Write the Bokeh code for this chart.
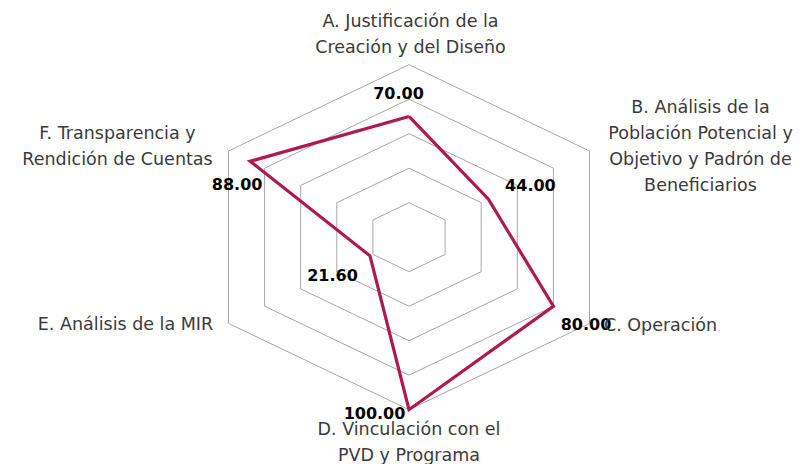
import numpy as np
from bokeh.plotting import figure
from bokeh.models import ColumnDataSource
from bokeh.core.properties import value
from bokeh.embed import file_html
from bokeh.resources import INLINE

# ---- data ----
categories = [
    "A. Justificación de la\nCreación y del Diseño",
    "B. Análisis de la\nPoblación Potencial y\nObjetivo y Padrón de\nBeneficiarios",
    "C. Operación",
    "D. Vinculación con el\nPVD y Programa",
    "E. Análisis de la MIR",
    "F. Transparencia y\nRendición de Cuentas",
]
values = [70.0, 44.0, 80.0, 100.0, 21.6, 88.0]
value_labels = ["70.00", "44.00", "80.00", "100.00", "21.60", "88.00"]
ring_levels = [20, 40, 60, 80, 100]

# ---- layout / style ----
W, H = 804, 464
cx_px, cy_px = 408.5, 236.7       # centre in pixels (from top)
ry_px = 172.5                     # px per 100 units vertically
sx = 180.5 / 86.6                 # px per unit horizontally
sy = ry_px / 100.0

x_start = -cx_px / sx
x_end = (W - cx_px) / sx
y_end = cy_px / sy
y_start = -(H - cy_px) / sy

n = len(categories)
ang = np.array([i * 2 * np.pi / n for i in range(n)])

def xy(r):
    r = np.asarray(r, dtype=float)
    return r * np.sin(ang), r * np.cos(ang)

p = figure(width=W, height=H, x_range=(x_start, x_end), y_range=(y_start, y_end),
           output_backend="svg", toolbar_location=None, min_border=0,
           background_fill_color="white", border_fill_color="white")
p.axis.visible = False
p.grid.visible = False
p.outline_line_color = None

# rings
for lv in ring_levels:
    rx, ry = xy([lv] * n)
    p.line(list(rx) + [rx[0]], list(ry) + [ry[0]], line_color="#A6A6A6", line_width=1)

# data polygon
vx, vy = xy(values)
p.line(list(vx) + [vx[0]], list(vy) + [vy[0]], line_color="#B0184F", line_width=3.2,
       line_join="miter")

# value labels (pixel offsets from the data point)
val_dx = [-10.5, 42, 32.6, -34.5, -37.5, -13]
val_dy = [-23, -14, 17.3, 3, 18.7, 22.5]
src_v = ColumnDataSource(dict(x=vx, y=vy, t=value_labels, dx=val_dx, dy=val_dy))
p.text(x="x", y="y", text="t", x_offset="dx", y_offset="dy", source=src_v,
       text_font=value("DejaVu Sans"), text_font_style="bold", text_font_size="16px",
       text_color="#000000", text_align="center", text_baseline="middle")

# category labels (pixel offsets from outer vertex)
ox, oy = xy([100] * n)
cat_dx = [1.5, 111, 71, 0, -103, -111]
cat_dy = [-30.7, -4.5, 2, 32.5, 1, -4.5]
src_c = ColumnDataSource(dict(x=ox, y=oy, t=categories, dx=cat_dx, dy=cat_dy))
p.text(x="x", y="y", text="t", x_offset="dx", y_offset="dy", source=src_c,
       text_font=value("DejaVu Sans"), text_font_size="17.5px", text_color="#3A3A3A",
       text_align="center", text_baseline="middle", text_line_height=1.3)

open("out.html", "w").write(file_html(p, INLINE))
